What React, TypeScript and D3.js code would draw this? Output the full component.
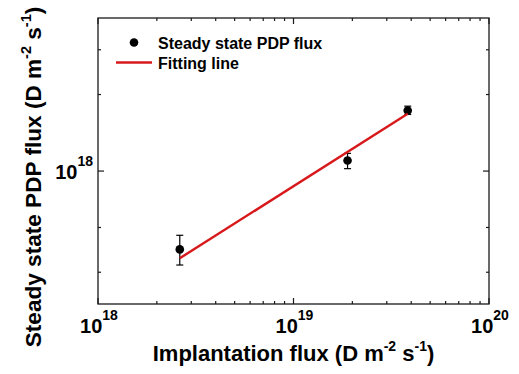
import React from "react";
import * as d3 from "d3";

const implantFlux = [2.62e18, 1.89e19, 3.84e19];
const pdpFlux = [4.92e17, 1.1e18, 1.73e18];
const errLow = [4.27e17, 1.022e18, 1.67e18];
const errHigh = [5.59e17, 1.174e18, 1.8e18];
const fitX = [2.62e18, 3.84e19];
const fitY = [4.54e17, 1.68e18];
const xMajorTicks = [1e18, 1e19, 1e20];
const xTickExp = ["18", "19", "20"];
const yMajorTicks = [1e18];
const yTickExp = ["18"];
const yMinorTicks = [4e17, 6e17, 2e18, 3e18];
const legendLabels = ["Steady state PDP flux", "Fitting line"];

const W = 519;
const H = 374;
const L = 98, R = 489, T = 18, B = 304;
const FONT = "'Liberation Sans', Arial, sans-serif";

export default function App() {
  const x = d3.scaleLog().domain([1e18, 1e20]).range([L, R]);
  const y = d3.scaleLog().domain([3e17, 4e18]).range([B, T]);
  const xMinor: number[] = [];
  for (const d of [1e18, 1e19]) for (let k = 2; k <= 9; k++) xMinor.push(d * k);
  const line = d3.line<number>().x((_, i) => x(fitX[i])).y((v) => y(v));
  const axisColor = "#1a1a1a";
  const maj = 6, mnr = 3;
  return (
    <svg width={W} height={H} style={{ position: "absolute", left: 0, top: 0 }} fontFamily={FONT}>
      <rect x={0} y={0} width={W} height={H} fill="#fff" />
      <g stroke={axisColor} strokeWidth={1.2}>
        {xMajorTicks.map((t, i) => (
          <g key={"xm" + i}>
            <line x1={x(t)} x2={x(t)} y1={B} y2={B - maj} />
            <line x1={x(t)} x2={x(t)} y1={T} y2={T + maj} />
          </g>
        ))}
        {xMinor.map((t, i) => (
          <g key={"xn" + i}>
            <line x1={x(t)} x2={x(t)} y1={B} y2={B - mnr} />
            <line x1={x(t)} x2={x(t)} y1={T} y2={T + mnr} />
          </g>
        ))}
        {yMajorTicks.map((t, i) => (
          <g key={"ym" + i}>
            <line x1={L} x2={L + maj} y1={y(t)} y2={y(t)} />
            <line x1={R} x2={R - maj} y1={y(t)} y2={y(t)} />
          </g>
        ))}
        {yMinorTicks.map((t, i) => (
          <g key={"yn" + i}>
            <line x1={L} x2={L + mnr} y1={y(t)} y2={y(t)} />
            <line x1={R} x2={R - mnr} y1={y(t)} y2={y(t)} />
          </g>
        ))}
      </g>
      <rect x={L} y={T} width={R - L} height={B - T} fill="none" stroke={axisColor} strokeWidth={1.3} />
      {xMajorTicks.map((t, i) => (
        <text key={"xl" + i} x={x(t) + 1} y={333} textAnchor="middle" fontWeight="bold" fill="#000">
          <tspan fontSize={20}>10</tspan>
          <tspan fontSize={14} dy={-13}>{xTickExp[i]}</tspan>
        </text>
      ))}
      {yMajorTicks.map((t, i) => (
        <text key={"yl" + i} x={93} y={y(t) + 8} textAnchor="end" fontWeight="bold" fill="#000">
          <tspan fontSize={20}>10</tspan>
          <tspan fontSize={14} dy={-13}>{yTickExp[i]}</tspan>
        </text>
      ))}
      <text x={(L + R) / 2} y={361} textAnchor="middle" fontWeight="bold" fontSize={22} fill="#000">
        Implantation flux (D m<tspan fontSize={14} dy={-10}>-2</tspan>
        <tspan dy={10}> s</tspan>
        <tspan fontSize={14} dy={-10}>-1</tspan>
        <tspan dy={10}>)</tspan>
      </text>
      <text transform={`translate(41,177) rotate(-90)`} textAnchor="middle" fontWeight="bold" fontSize={22.6} fill="#000">
        Steady state PDP flux (D m<tspan fontSize={14.5} dy={-10}>-2</tspan>
        <tspan dy={10}> s</tspan>
        <tspan fontSize={14.5} dy={-10}>-1</tspan>
        <tspan dy={10}>)</tspan>
      </text>
      <g stroke="#000" strokeWidth={1.2}>
        {implantFlux.map((v, i) => (
          <g key={"e" + i}>
            <line x1={x(v)} x2={x(v)} y1={y(errLow[i])} y2={y(errHigh[i])} />
            <line x1={x(v) - 3.5} x2={x(v) + 3.5} y1={y(errLow[i])} y2={y(errLow[i])} />
            <line x1={x(v) - 3.5} x2={x(v) + 3.5} y1={y(errHigh[i])} y2={y(errHigh[i])} />
          </g>
        ))}
      </g>
      {implantFlux.map((v, i) => (
        <circle key={"p" + i} cx={x(v)} cy={y(pdpFlux[i])} r={4.3} fill="#000" />
      ))}
      <path d={line(fitY) || ""} fill="none" stroke="#d7191c" strokeWidth={2.4} />
      <circle cx={134} cy={42.5} r={4.3} fill="#000" />
      <text x={158} y={48.5} fontWeight="bold" fontSize={16} fill="#000">{legendLabels[0]}</text>
      <line x1={116} x2={152} y1={62.5} y2={62.5} stroke="#d7191c" strokeWidth={2.4} />
      <text x={158} y={68.5} fontWeight="bold" fontSize={16} fill="#000">{legendLabels[1]}</text>
    </svg>
  );
}
